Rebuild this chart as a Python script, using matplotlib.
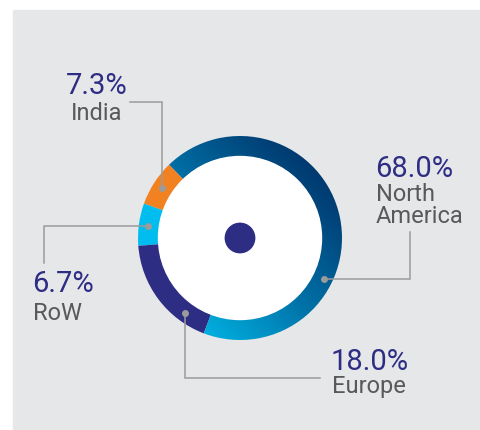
import numpy as np
import matplotlib.pyplot as plt
from matplotlib.colors import LinearSegmentedColormap
from matplotlib.patches import Circle, Rectangle

plt.rcParams['font.family'] = ['Roboto', 'DejaVu Sans']

# data
regions = ['India', 'RoW', 'Europe', 'North\nAmerica']
shares = [7.3, 6.7, 18.0, 68.0]
colors = ['#F28122', '#00BDF0', '#2E2D84', 'gradient']

W, H = 480, 430
cx, cy = 240, 238          # donut centre (pixel coords, y down)
r_out, r_in = 102, 81

fig = plt.figure(figsize=(4.8, 4.3), dpi=100)
ax = fig.add_axes([0, 0, 1, 1])
ax.set_axis_off()

def P(x, y):
    # pixel (y down) -> axes data (y up)
    return x, H - y

ax.add_patch(Rectangle(P(13, 430), 467, 420, color='#E6E7E9', zorder=0))

wedges, _ = ax.pie(shares, radius=r_out, center=P(cx, cy), startangle=134,
                   counterclock=True,
                   colors=[c if c != 'gradient' else 'none' for c in colors],
                   wedgeprops=dict(width=r_out - r_in, edgecolor='none'))

# gradient fill for North America
cmap = LinearSegmentedColormap.from_list('na', ['#00B4E4', '#0070A6', '#003A70'])
xs = np.linspace(-r_out, r_out, 300)
gx, gy = np.meshgrid(xs, xs)
grad = (gx + gy) / np.sqrt(2)
im = ax.imshow(grad, extent=[cx - r_out, cx + r_out, H - cy - r_out, H - cy + r_out],
               origin='lower', cmap=cmap, vmin=-100, vmax=100, zorder=2)
im.set_clip_path(wedges[3])

ax.add_patch(Circle(P(cx, cy), r_in + 0.5, color='white', zorder=3))
ax.add_patch(Circle(P(cx, cy), 14.7, color='#2E2D84', zorder=4))

# leader lines: where on the wedge the dot sits, then elbow routing
anchor_frac = [0.5, 0.5, 0.765, 0.346]
leaders = [('v', 102, 130), ('h', 44, 263), ('v', 378, 320), ('h', 410, 232)]
line_c = '#9B9B9B'
for w, f, (kind, a, b) in zip(wedges, anchor_frac, leaders):
    th = np.deg2rad(w.theta1 + f * (w.theta2 - w.theta1))
    x0 = cx + 93 * np.cos(th)
    y0 = cy - 93 * np.sin(th)
    if kind == 'v':
        pts = [(x0, y0), (x0, a), (b, a)]
    else:
        pts = [(x0, y0), (a, y0), (a, b)]
    px = [p[0] for p in pts]
    py = [H - p[1] for p in pts]
    ax.plot(px, py, color=line_c, lw=1.1, zorder=5, solid_joinstyle='miter')
    ax.plot(px[0], py[0], 'o', color=line_c, ms=4, zorder=6)

# labels (name baseline = baseline of its last line)
pct_c = '#2E2D84'
name_c = '#58595B'
label_pos = [(96.5, 94, 120, 'center'), (32, 292, 320, 'left'),
             (331, 370, 393, 'left'), (375, 177, 223, 'left')]
for name, val, (x, yp, yn, ha) in zip(regions, shares, label_pos):
    ax.text(*P(x, yp), f'{val:.1f}%', color=pct_c, fontsize=21, ha=ha, va='baseline')
    ax.text(*P(x + (1 if ha == 'left' else 0), yn), name, color=name_c, fontsize=17,
            ha=ha, va='baseline', linespacing=0.95)

ax.set_xlim(0, W)
ax.set_ylim(0, H)
ax.set_aspect('auto')
fig.savefig('out.png', dpi=100)
